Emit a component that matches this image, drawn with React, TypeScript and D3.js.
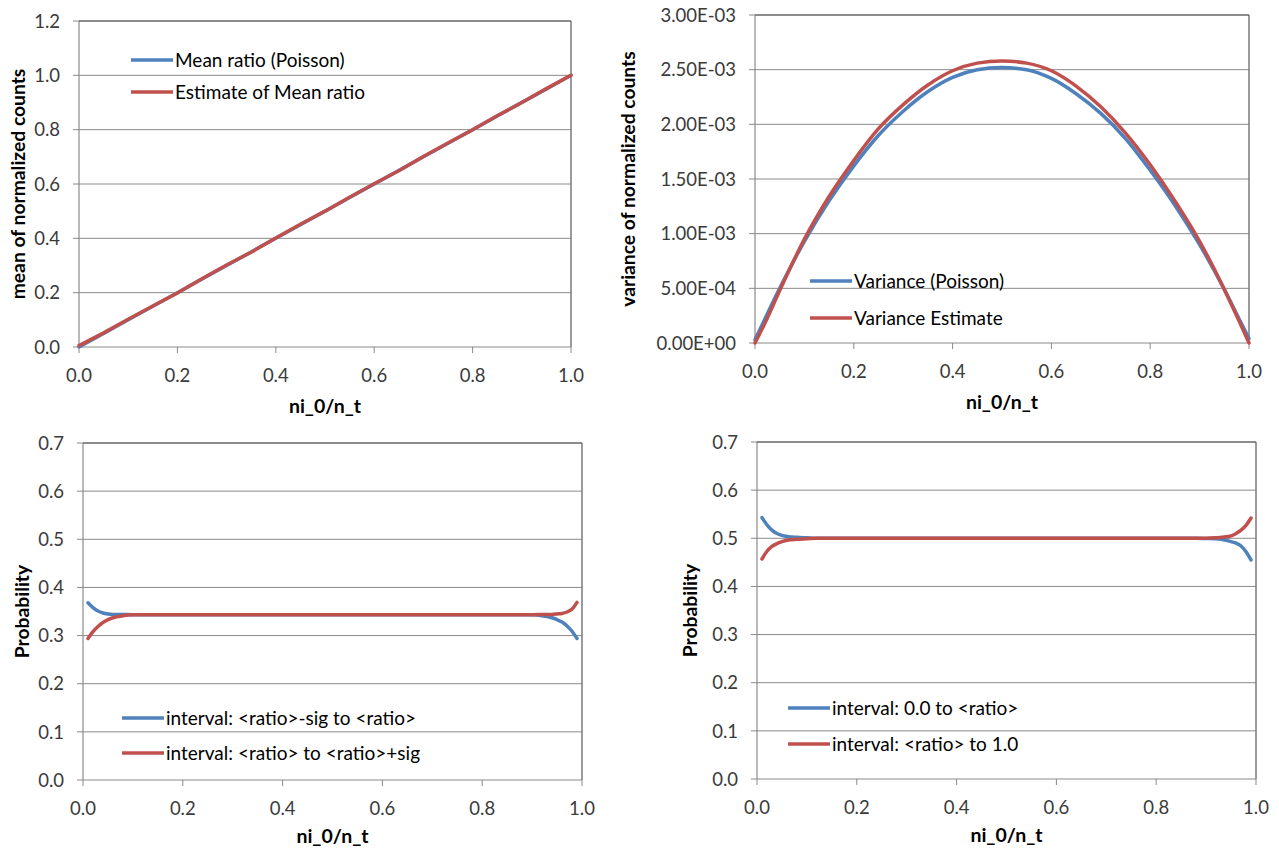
import React from "react";
import * as d3 from "d3";

// ---------- data ----------
const meanX = [0.0, 0.05, 0.1, 0.15, 0.2, 0.25, 0.3, 0.35, 0.4, 0.45, 0.5, 0.55, 0.6, 0.65, 0.7, 0.75, 0.8, 0.85, 0.9, 0.95, 1.0];
const meanPoisson = [0.0, 0.05, 0.1, 0.15, 0.2, 0.25, 0.3, 0.35, 0.4, 0.45, 0.5, 0.55, 0.6, 0.65, 0.7, 0.75, 0.8, 0.85, 0.9, 0.95, 1.0];
const meanEstimate = [0.005, 0.052, 0.102, 0.151, 0.199, 0.251, 0.302, 0.349, 0.401, 0.452, 0.5, 0.551, 0.601, 0.649, 0.701, 0.751, 0.8, 0.851, 0.9, 0.951, 1.0];

const varX = [0, 0.02, 0.05, 0.1, 0.15, 0.2, 0.25, 0.3, 0.35, 0.4, 0.45, 0.5, 0.55, 0.6, 0.65, 0.7, 0.75, 0.8, 0.85, 0.9, 0.95, 0.98, 1.0];
const varPoisson = [0.03e-3, 0.22e-3, 0.5e-3, 0.93e-3, 1.3e-3, 1.62e-3, 1.9e-3, 2.12e-3, 2.3e-3, 2.43e-3, 2.5e-3, 2.52e-3, 2.5e-3, 2.42e-3, 2.28e-3, 2.1e-3, 1.87e-3, 1.58e-3, 1.26e-3, 0.9e-3, 0.49e-3, 0.22e-3, 0.04e-3];
const varEstimate = [0.0, 0.18e-3, 0.48e-3, 0.95e-3, 1.34e-3, 1.67e-3, 1.96e-3, 2.18e-3, 2.36e-3, 2.49e-3, 2.56e-3, 2.58e-3, 2.56e-3, 2.49e-3, 2.35e-3, 2.16e-3, 1.92e-3, 1.63e-3, 1.3e-3, 0.93e-3, 0.49e-3, 0.2e-3, 0.0];

const probX = [0.01, 0.02, 0.03, 0.04, 0.05, 0.06, 0.08, 0.1, 0.12, 0.2, 0.4, 0.6, 0.8, 0.88, 0.9, 0.92, 0.94, 0.95, 0.96, 0.97, 0.98, 0.99];
const sigBelow = [0.368, 0.358, 0.351, 0.347, 0.345, 0.344, 0.3438, 0.3435, 0.3435, 0.3435, 0.3435, 0.3435, 0.3435, 0.3435, 0.343, 0.341, 0.337, 0.333, 0.328, 0.32, 0.309, 0.294];
const sigAbove = [0.294, 0.308, 0.319, 0.327, 0.333, 0.337, 0.341, 0.343, 0.3435, 0.3435, 0.3435, 0.3435, 0.3435, 0.3435, 0.3435, 0.3437, 0.344, 0.345, 0.346, 0.349, 0.355, 0.369];
const zeroToRatio = [0.543, 0.528, 0.517, 0.51, 0.506, 0.504, 0.502, 0.501, 0.5, 0.5, 0.5, 0.5, 0.5, 0.5, 0.4995, 0.499, 0.496, 0.493, 0.49, 0.484, 0.472, 0.455];
const ratioToOne = [0.457, 0.473, 0.483, 0.489, 0.493, 0.496, 0.498, 0.499, 0.5, 0.5, 0.5, 0.5, 0.5, 0.5, 0.5, 0.501, 0.503, 0.505, 0.51, 0.517, 0.527, 0.542];

const xTicks = [0, 0.2, 0.4, 0.6, 0.8, 1.0];
const xTickLabels = ["0.0", "0.2", "0.4", "0.6", "0.8", "1.0"];
const meanYTicks = [0, 0.2, 0.4, 0.6, 0.8, 1.0, 1.2];
const meanYLabels = ["0.0", "0.2", "0.4", "0.6", "0.8", "1.0", "1.2"];
const varYTicks = [0, 0.5e-3, 1e-3, 1.5e-3, 2e-3, 2.5e-3, 3e-3];
const varYLabels = ["0.00E+00", "5.00E-04", "1.00E-03", "1.50E-03", "2.00E-03", "2.50E-03", "3.00E-03"];
const probYTicks = [0, 0.1, 0.2, 0.3, 0.4, 0.5, 0.6, 0.7];
const probYLabels = ["0.0", "0.1", "0.2", "0.3", "0.4", "0.5", "0.6", "0.7"];

const BLUE = "#4F81BD";
const RED = "#C0504D";
const FONT = "Lato, 'Open Sans', sans-serif";

type Series = { name: string; xs: number[]; ys: number[]; color: string };

type PanelProps = {
  x0: number; x1: number; yTop: number; yBottom: number;
  yDomain: [number, number];
  yTicks: number[]; yLabels: string[];
  yTitle: string; yTitleX: number; xTitleDy: number;
  series: Series[];
  legendX: number; legendY: number[];
  smooth?: boolean;
};

function Panel(p: PanelProps) {
  const x = d3.scaleLinear().domain([0, 1]).range([p.x0, p.x1]);
  const y = d3.scaleLinear().domain(p.yDomain).range([p.yBottom, p.yTop]);
  const grid = "#8a8a8a";
  const textColor = "#3a3a3a";
  return (
    <g>
      {p.yTicks.map((t, i) => (
        <g key={"y" + i}>
          <line x1={p.x0 - 6} x2={p.x1} y1={y(t)} y2={y(t)} stroke={grid} strokeWidth={1} />
          <text x={p.x0 - 19} y={y(t)} dy="0.36em" textAnchor="end" fontSize={18.5} fill={textColor} fontFamily={FONT}>{p.yLabels[i]}</text>
        </g>
      ))}
      {xTicks.map((t, i) => (
        <g key={"x" + i}>
          <line x1={x(t)} x2={x(t)} y1={p.yBottom} y2={p.yBottom + 6} stroke={grid} strokeWidth={1} />
          <text x={x(t)} y={p.yBottom + 35} textAnchor="middle" fontSize={18.5} fill={textColor} fontFamily={FONT}>{xTickLabels[i]}</text>
        </g>
      ))}
      <line x1={p.x0} x2={p.x0} y1={p.yTop} y2={p.yBottom} stroke={grid} strokeWidth={1.2} />
      <line x1={p.x1} x2={p.x1} y1={p.yTop} y2={p.yBottom} stroke="#7a7a7a" strokeWidth={1.5} />
      <line x1={p.x0} x2={p.x1} y1={p.yTop} y2={p.yTop} stroke="#555" strokeWidth={1.2} />
      <text x={(p.x0 + p.x1) / 2} y={p.yBottom + p.xTitleDy} textAnchor="middle" fontSize={19.5} fontWeight="bold" fill="#000" fontFamily={FONT}>ni_0/n_t</text>
      <text transform={`translate(${p.yTitleX},${(p.yTop + p.yBottom) / 2}) rotate(-90)`} textAnchor="middle" fontSize={19.3} fontWeight="bold" fill="#000" fontFamily={FONT}>{p.yTitle}</text>
      {p.series.map((s, i) => {
        const pts: [number, number][] = s.xs.map((xv, j) => [x(xv), y(s.ys[j])]);
        const line = d3.line().curve(p.smooth ? d3.curveMonotoneX : d3.curveLinear);
        return <path key={"s" + i} d={line(pts) || ""} fill="none" stroke={s.color} strokeWidth={3.5} strokeLinejoin="round" strokeLinecap="round" />;
      })}
      {p.series.map((s, i) => (
        <g key={"l" + i}>
          <line x1={p.legendX} x2={p.legendX + 42} y1={p.legendY[i]} y2={p.legendY[i]} stroke={s.color} strokeWidth={3.5} />
          <text x={p.legendX + 44} y={p.legendY[i]} dy="0.36em" fontSize={19} fill="#000" fontFamily={FONT}>{s.name}</text>
        </g>
      ))}
    </g>
  );
}

export default function App() {
  return (
    <svg width={1279} height={850} style={{ position: "absolute", left: 0, top: 0, background: "#fff" }}>
      <rect width={1279} height={850} fill="#fff" />
      <Panel x0={79} x1={571} yTop={21} yBottom={347} yDomain={[0, 1.2]} yTicks={meanYTicks} yLabels={meanYLabels}
        yTitle="mean of normalized counts" yTitleX={25} xTitleDy={66}
        series={[
          { name: "Mean ratio (Poisson)", xs: meanX, ys: meanPoisson, color: BLUE },
          { name: "Estimate of Mean ratio", xs: meanX, ys: meanEstimate, color: RED },
        ]}
        legendX={131} legendY={[60, 92]} />
      <Panel x0={755} x1={1249} yTop={15} yBottom={343} yDomain={[0, 3e-3]} yTicks={varYTicks} yLabels={varYLabels}
        yTitle="variance of normalized counts" yTitleX={635} xTitleDy={66} smooth
        series={[
          { name: "Variance (Poisson)", xs: varX, ys: varPoisson, color: BLUE },
          { name: "Variance Estimate", xs: varX, ys: varEstimate, color: RED },
        ]}
        legendX={810} legendY={[281, 318]} />
      <Panel x0={83} x1={582} yTop={443} yBottom={780} yDomain={[0, 0.7]} yTicks={probYTicks} yLabels={probYLabels}
        yTitle="Probability" yTitleX={29} xTitleDy={63} smooth
        series={[
          { name: "interval: <ratio>-sig to <ratio>", xs: probX, ys: sigBelow, color: BLUE },
          { name: "interval: <ratio> to <ratio>+sig", xs: probX, ys: sigAbove, color: RED },
        ]}
        legendX={122} legendY={[718, 753]} />
      <Panel x0={757} x1={1256} yTop={442} yBottom={779} yDomain={[0, 0.7]} yTicks={probYTicks} yLabels={probYLabels}
        yTitle="Probability" yTitleX={697} xTitleDy={63} smooth
        series={[
          { name: "interval: 0.0 to <ratio>", xs: probX, ys: zeroToRatio, color: BLUE },
          { name: "interval: <ratio> to 1.0", xs: probX, ys: ratioToOne, color: RED },
        ]}
        legendX={788} legendY={[708, 744]} />
    </svg>
  );
}
